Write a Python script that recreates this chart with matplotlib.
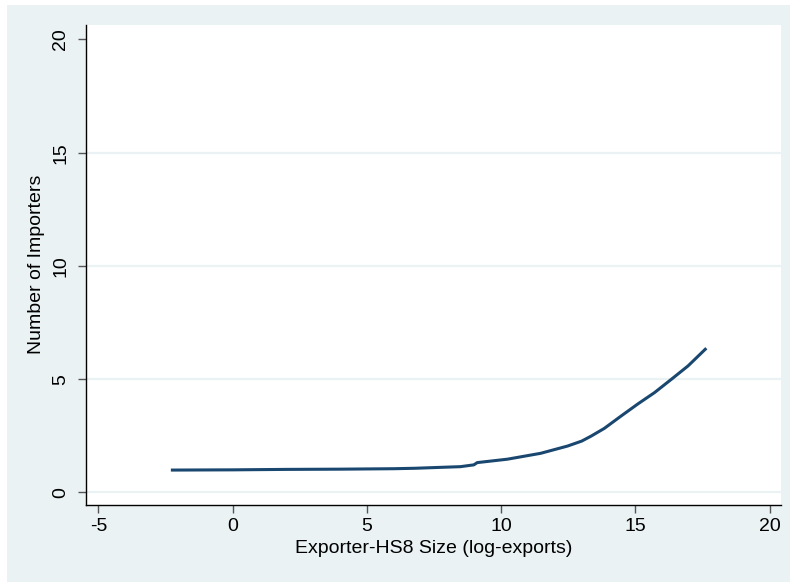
import matplotlib.pyplot as plt
from matplotlib.patches import Rectangle

# smoothed curve
log_exports = [-2.3, 0, 2, 4, 6, 6.8, 7.74, 8.48, 8.98, 9.11, 10.23, 11.47, 12.47,
               13.0, 13.35, 13.84, 14.47, 15.09, 15.71, 16.34, 16.96, 17.64]
n_importers = [0.99, 1.0, 1.02, 1.03, 1.05, 1.07, 1.11, 1.14, 1.22, 1.32, 1.47,
               1.73, 2.05, 2.27, 2.49, 2.83, 3.38, 3.91, 4.41, 5.00, 5.59, 6.37]

x_ticks = [-5, 0, 5, 10, 15, 20]
y_ticks = [0, 5, 10, 15, 20]

plt.rcParams['font.family'] = ['Liberation Sans', 'DejaVu Sans']
plt.rcParams['axes.unicode_minus'] = False

bg = '#EAF2F3'
navy = '#1A476F'

fig = plt.figure(figsize=(7.9, 5.82), dpi=100, facecolor='white')
# Stata-style outer background (white sliver at top/left)
fig.patches.append(Rectangle((7 / 790, 0), 1, 1 - 5 / 582, transform=fig.transFigure,
                             facecolor=bg, edgecolor='none', zorder=-10))

ax = fig.add_axes([86 / 790, 1 - 504.5 / 582, (781 - 86) / 790, (504.5 - 25) / 582])
ax.set_facecolor('white')

for yv in y_ticks[:-1]:
    ax.axhline(yv, color=bg, linewidth=1.6, zorder=0)

ax.plot(log_exports, n_importers, color=navy, linewidth=2.2, solid_capstyle='butt',
        solid_joinstyle='round')

ax.set_xlim(-5.46, 20.42)
ax.set_ylim(-0.53, 20.64)
ax.set_xticks(x_ticks)
ax.set_yticks(y_ticks)

for s in ['top', 'right']:
    ax.spines[s].set_visible(False)
for s in ['left', 'bottom']:
    ax.spines[s].set_color('black')
    ax.spines[s].set_linewidth(1.0)

ax.tick_params(axis='both', direction='out', length=6, width=1, color='#555555',
               labelsize=14, labelcolor='black')
ax.tick_params(axis='x', pad=4)
ax.tick_params(axis='y', pad=6)
for lbl in ax.get_yticklabels():
    lbl.set_rotation(90)
    lbl.set_va('center')

ax.set_xlabel('Exporter-HS8 Size (log-exports)', fontsize=14, labelpad=3)
ax.set_ylabel('Number of Importers', fontsize=14, labelpad=5)

fig.savefig('out.png', dpi=100, facecolor=fig.get_facecolor())
